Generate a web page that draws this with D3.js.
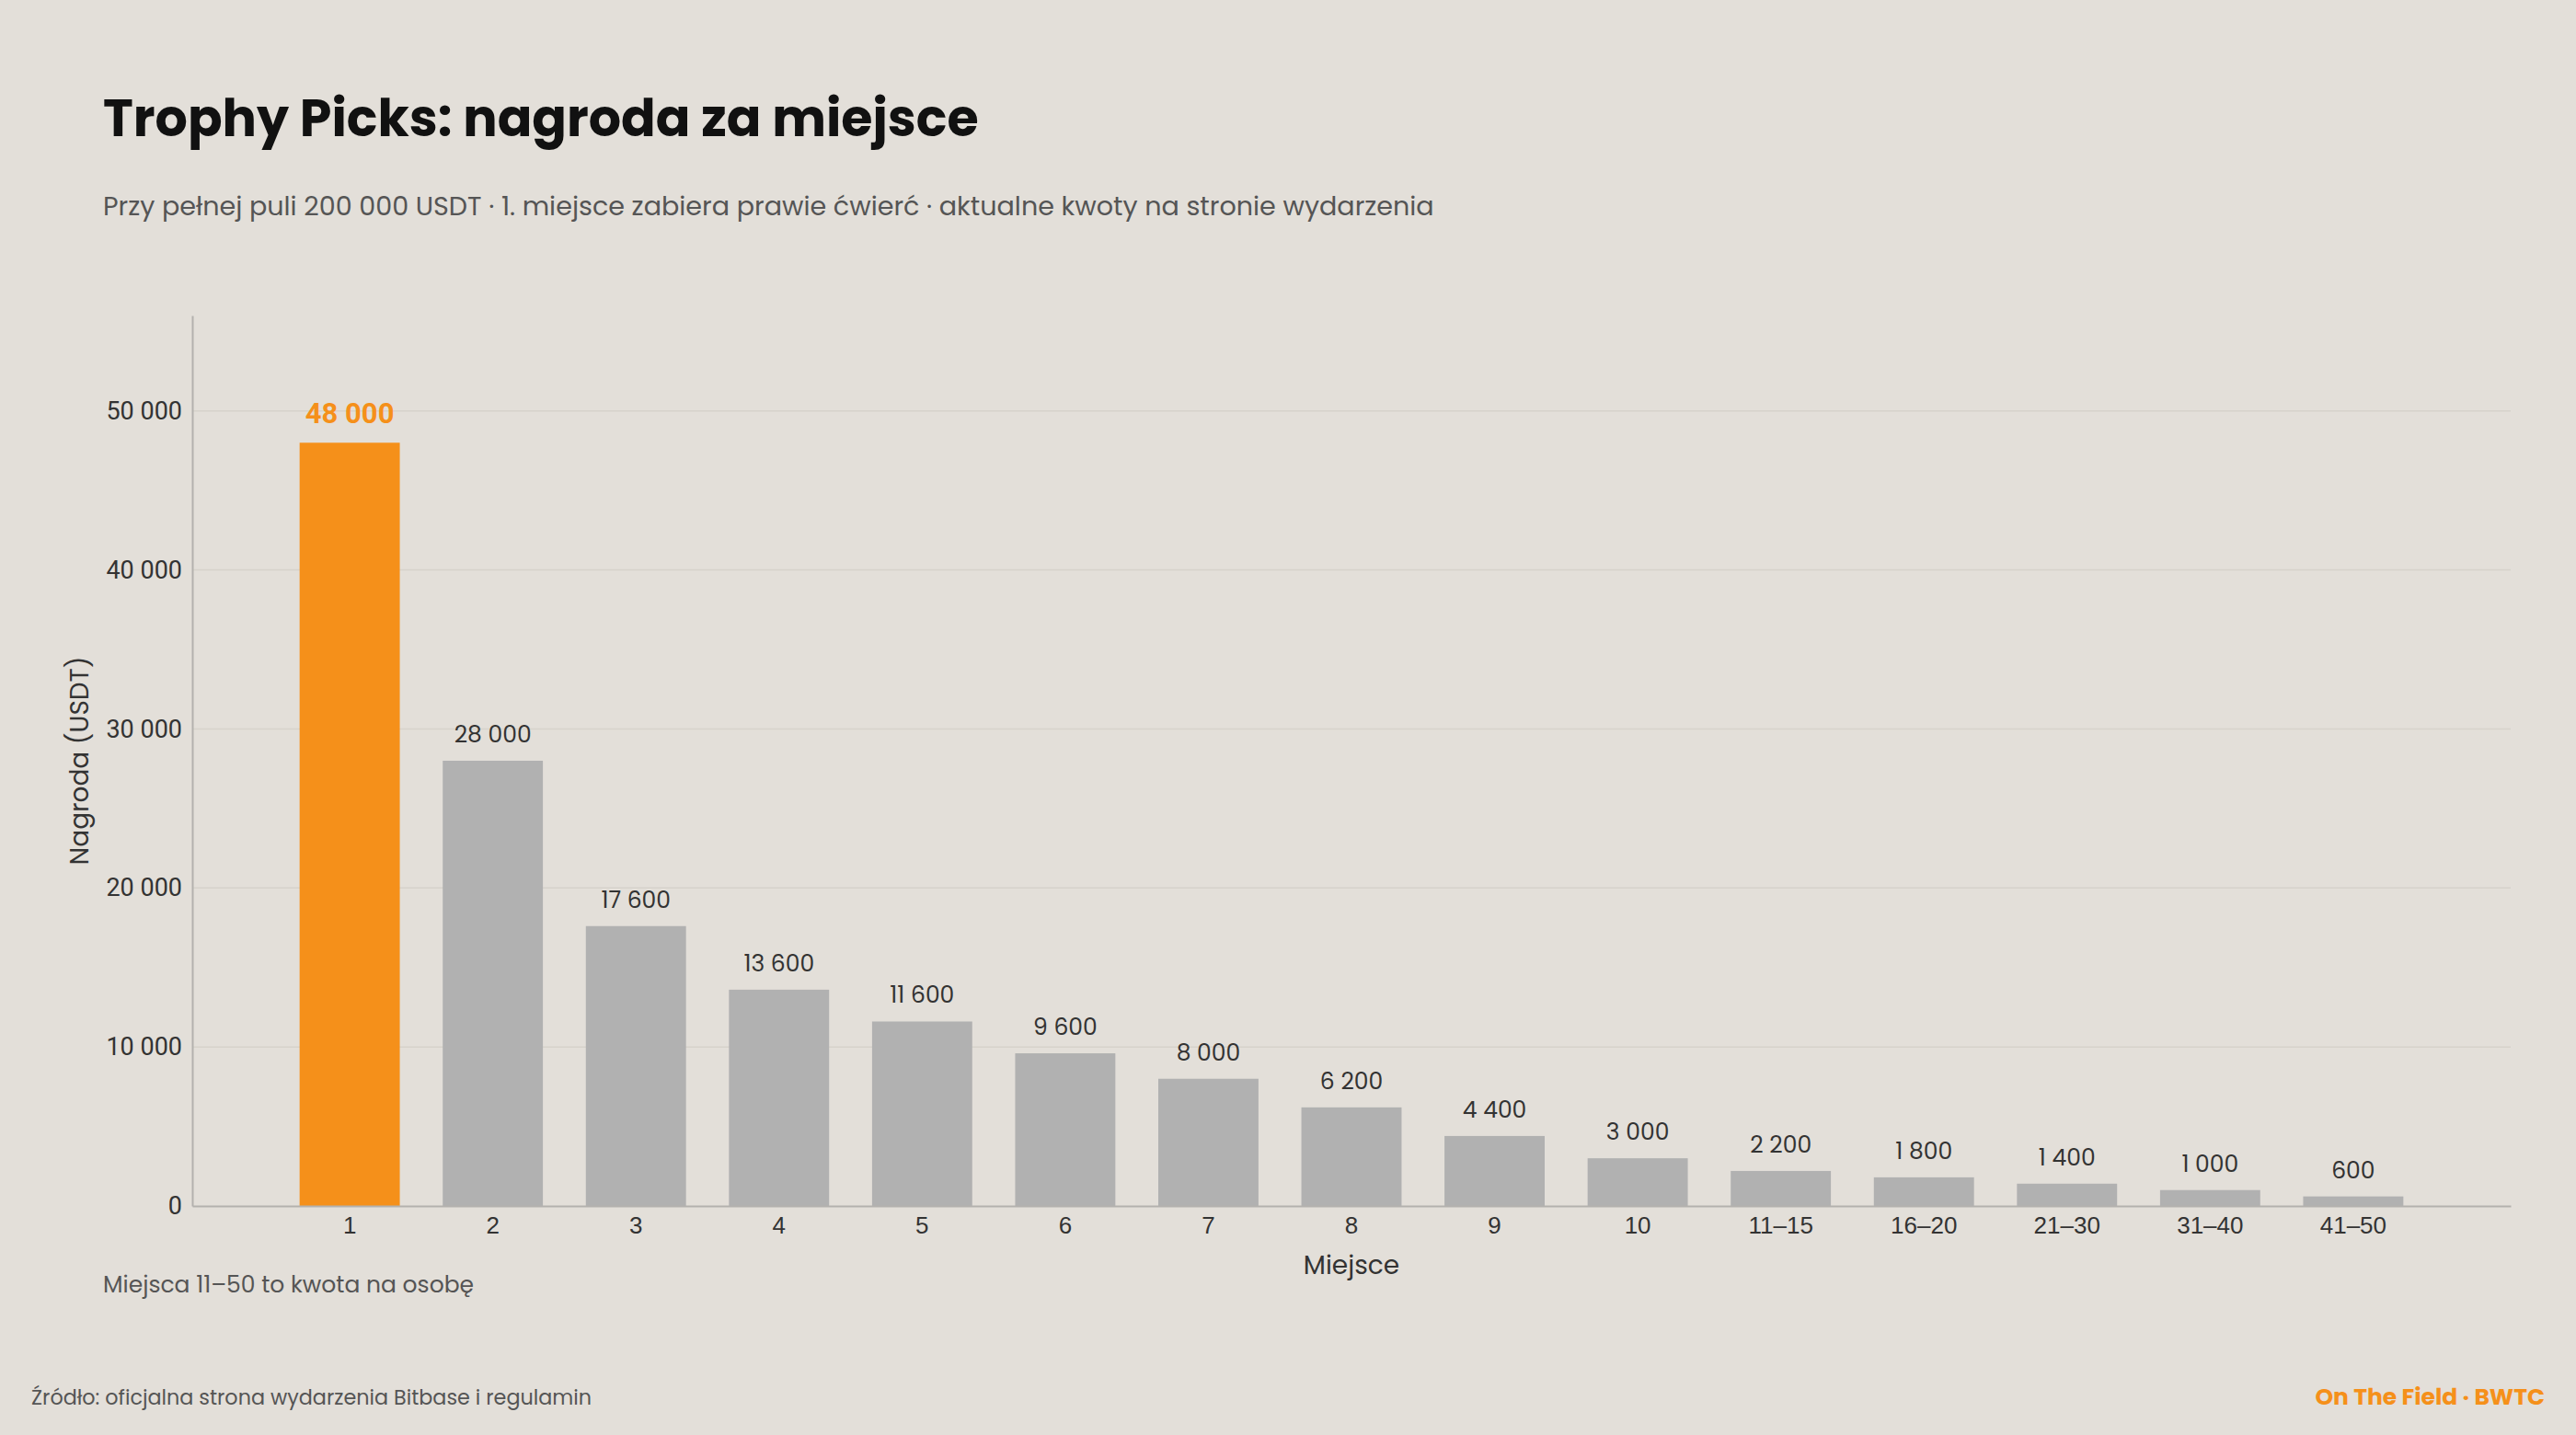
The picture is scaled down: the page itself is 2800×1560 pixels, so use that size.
<!DOCTYPE html>
<html>
<head>
<meta charset="utf-8">
<script src="https://cdn.jsdelivr.net/npm/d3@7"></script>
<style>
  body { margin: 0; background: #e3dfd9; }
  svg { display: block; font-family: Poppins, "Noto Sans", sans-serif; }
  .grid line { stroke: #d6d2cb; stroke-width: 1.5; }
  .axis path, .axis line { stroke: #b3b1ae; }
  .axis text { fill: #333; }
</style>
</head>
<body>
<div id="chart"></div>
<script>
// places and prize per place (USDT)
var places = ["1", "2", "3", "4", "5", "6", "7", "8", "9", "10", "11\u201315", "16\u201320", "21\u201330", "31\u201340", "41\u201350"];
var prizes = [48000, 28000, 17600, 13600, 11600, 9600, 8000, 6200, 4400, 3000, 2200, 1800, 1400, 1000, 600];
var yTicks = [0, 10000, 20000, 30000, 40000, 50000];

var width = 2800,
    height = 1560;

var margin = {top: 343, right: 71, bottom: 249, left: 209};

var fmt = d3.formatLocale({decimal: ",", thousands: " ", grouping: [3], currency: ["", ""]}).format(",d");

var svg = d3.select("#chart").append("svg")
    .attr("width", width)
    .attr("height", height);

svg.append("rect")
    .attr("width", width)
    .attr("height", height)
    .attr("fill", "#e3dfd9");

var x = d3.scaleBand()
    .domain(places)
    .range([margin.left, width - margin.right])
    .paddingInner(0.3)
    .paddingOuter(0.75);

var y = d3.scaleLinear()
    .domain([0, 56000])
    .range([height - margin.bottom, margin.top]);

// titles
svg.append("text")
    .attr("x", 112)
    .attr("y", 148)
    .attr("font-size", 55.5)
    .attr("font-weight", 700)
    .attr("fill", "#111")
    .text("Trophy Picks: nagroda za miejsce");

svg.append("text")
    .attr("x", 112)
    .attr("y", 234)
    .attr("font-size", 28.6)
    .attr("fill", "#555")
    .text("Przy pe\u0142nej puli 200 000 USDT \u00b7 1. miejsce zabiera prawie \u0107wier\u0107 \u00b7 aktualne kwoty na stronie wydarzenia");

// gridlines
svg.append("g")
    .attr("class", "grid")
    .selectAll("line")
    .data(yTicks.filter(function(d) { return d > 0; }))
  .enter().append("line")
    .attr("x1", margin.left)
    .attr("x2", width - margin.right)
    .attr("y1", function(d) { return y(d); })
    .attr("y2", function(d) { return y(d); });

// bars
svg.append("g")
    .selectAll("rect")
    .data(prizes)
  .enter().append("rect")
    .attr("x", function(d, i) { return x(places[i]); })
    .attr("y", function(d) { return y(d); })
    .attr("width", x.bandwidth())
    .attr("height", function(d) { return y(0) - y(d); })
    .attr("fill", function(d, i) { return i == 0 ? "#f5901a" : "#b1b1b1"; });

// value labels, the winner gets its own bold one
svg.append("g")
    .selectAll("text")
    .data(prizes)
  .enter().append("text")
    .attr("x", function(d, i) { return x(places[i]) + x.bandwidth() / 2; })
    .attr("y", function(d, i) { return y(d) - (i == 0 ? 21 : 20); })
    .attr("text-anchor", "middle")
    .attr("font-family", function(d, i) { return i == 0 ? "Roboto, sans-serif" : null; })
    .attr("font-size", function(d, i) { return i == 0 ? 31 : 25; })
    .attr("font-weight", function(d, i) { return i == 0 ? 700 : 400; })
    .attr("fill", function(d, i) { return i == 0 ? "#f5901a" : "#333"; })
    .text(function(d) { return fmt(d); });

// axes
var yAxis = svg.append("g")
    .attr("class", "axis")
    .attr("transform", "translate(" + margin.left + ",0)")
    .call(d3.axisLeft(y).tickValues(yTicks).tickSize(0).tickPadding(11).tickFormat(fmt));
yAxis.select(".domain").attr("stroke-width", 2);
yAxis.selectAll("text").attr("font-size", 27).attr("font-family", "Roboto, sans-serif");

var xAxis = svg.append("g")
    .attr("class", "axis")
    .attr("transform", "translate(0," + y(0) + ")")
    .call(d3.axisBottom(x).tickSize(0).tickPadding(10).tickSizeOuter(0));
xAxis.select(".domain").attr("stroke-width", 2);
xAxis.selectAll("text").attr("font-size", 26).attr("dy", "0.75em");

// axis titles
svg.append("text")
    .attr("x", (margin.left + width - margin.right) / 2)
    .attr("y", 1385)
    .attr("text-anchor", "middle")
    .attr("font-size", 28)
    .attr("fill", "#333")
    .text("Miejsce");

svg.append("text")
    .attr("transform", "translate(96," + (y(0) + y(56000)) / 2 + ")rotate(-90)")
    .attr("text-anchor", "middle")
    .attr("font-size", 28)
    .attr("fill", "#333")
    .text("Nagroda (USDT)");

// notes
svg.append("text")
    .attr("x", 112)
    .attr("y", 1405)
    .attr("font-size", 25)
    .attr("fill", "#555")
    .text("Miejsca 11\u201350 to kwota na osob\u0119");

svg.append("text")
    .attr("x", 34)
    .attr("y", 1527)
    .attr("font-size", 22.3)
    .attr("fill", "#555")
    .text("\u0179r\u00f3d\u0142o: oficjalna strona wydarzenia Bitbase i regulamin");

svg.append("text")
    .attr("x", 2766)
    .attr("y", 1527)
    .attr("text-anchor", "end")
    .attr("font-size", 25)
    .attr("font-weight", 700)
    .attr("fill", "#f5901a")
    .text("On The Field \u00b7 BWTC");
</script>
</body>
</html>
